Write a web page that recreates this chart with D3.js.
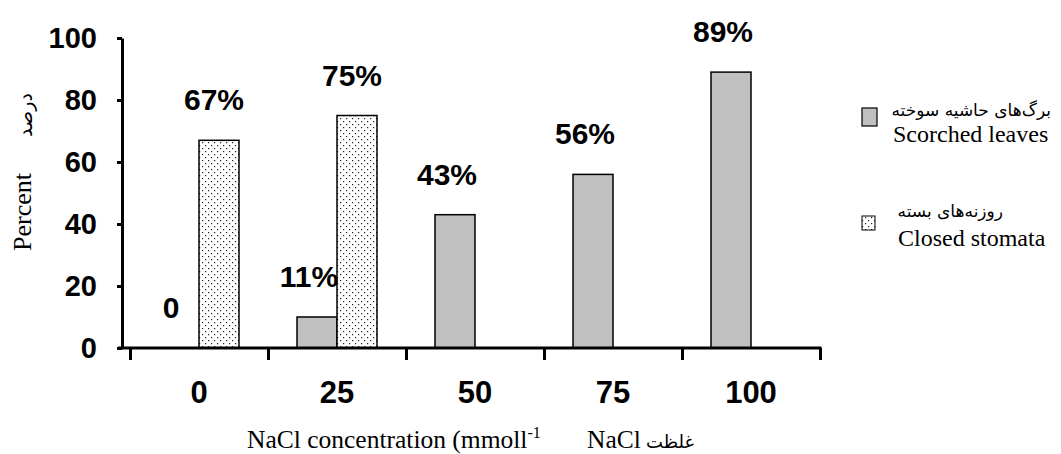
<!DOCTYPE html>
<html>
<head>
<meta charset="utf-8">
<script src="https://cdn.jsdelivr.net/npm/d3@7"></script>
<style>
	body { margin: 0; background: #fff; }
	.tick text { font-family: "Liberation Sans", Arial, sans-serif; font-weight: bold; fill: #000; }
	.serif { font-family: "Liberation Serif", "Times New Roman", serif; fill: #000; }
	.fa { font-family: "DejaVu Sans", sans-serif; fill: #000; }
</style>
</head>
<body>
<svg width="1061" height="454"></svg>
<script>
// The svg
const svg = d3.select("svg"),
	width = +svg.attr("width"),
	height = +svg.attr("height");

// Data
const categories = ["0", "25", "50", "75", "100"]
const scorched = [0, 10, 43, 56, 89]
const scorchedLabels = ["0", "11%", "43%", "56%", "89%"]
const closed = [67, 75, null, null, null]
const closedLabels = ["67%", "75%", null, null, null]
const yTicks = [0, 20, 40, 60, 80, 100]

// pattern for closed stomata
const defs = svg.append("defs")
const pat = defs.append("pattern")
	.attr("id", "dots")
	.attr("patternUnits", "userSpaceOnUse")
	.attr("width", 6)
	.attr("height", 6)
pat.append("rect").attr("width", 6).attr("height", 6).attr("fill", "#fff")
pat.append("rect").attr("x", 1).attr("y", 1).attr("width", 1.2).attr("height", 1.2).attr("fill", "#222")
pat.append("rect").attr("x", 4).attr("y", 4).attr("width", 1.2).attr("height", 1.2).attr("fill", "#222")

// Scales
const x = d3.scaleBand()
	.domain(categories)
	.range([130, 820])
	.padding(0)

const x1 = d3.scaleBand()
	.domain(["scorched", "closed"])
	.range([0, 80])

const y = d3.scaleLinear()
	.domain([0, 100])
	.range([348, 38])

const groupX = function (c) {
	return x(c) + (x.bandwidth() - 80) / 2
}

// Bars
const scorchedBars = svg.append("g")
scorchedBars.selectAll("rect")
	.data(categories)
	.join("rect")
	.filter(function (d, i) { return scorched[i] > 0 })
	.attr("x", d => groupX(d) + x1("scorched"))
	.attr("y", (d) => y(scorched[categories.indexOf(d)]))
	.attr("width", x1.bandwidth())
	.attr("height", (d) => y(0) - y(scorched[categories.indexOf(d)]))
	.attr("fill", "#c0c0c0")
	.attr("stroke", "#000")
	.attr("stroke-width", 1.5)

const closedBars = svg.append("g")
closedBars.selectAll("rect")
	.data(categories.filter((d, i) => closed[i] != null))
	.join("rect")
	.attr("x", d => groupX(d) + x1("closed"))
	.attr("y", (d) => y(closed[categories.indexOf(d)]))
	.attr("width", x1.bandwidth())
	.attr("height", (d) => y(0) - y(closed[categories.indexOf(d)]))
	.attr("fill", "url(#dots)")
	.attr("stroke", "#000")
	.attr("stroke-width", 1.5)

// Value labels
const labelFont = "'Liberation Sans', Arial, sans-serif"
svg.append("g").selectAll("text")
	.data(categories)
	.join("text")
	.attr("x", d => groupX(d) + x1("scorched") + x1.bandwidth() / 2 - 8)
	.attr("y", (d, i) => y(scorched[i]) - 30)
	.attr("text-anchor", "middle")
	.attr("font-family", labelFont)
	.attr("font-weight", "bold")
	.attr("font-size", 30)
	.text((d, i) => scorchedLabels[i])

svg.append("g").selectAll("text")
	.data(categories.filter((d, i) => closed[i] != null))
	.join("text")
	.attr("x", d => groupX(d) + x1("closed") + x1.bandwidth() / 2 - 5)
	.attr("y", (d) => y(closed[categories.indexOf(d)]) - 30)
	.attr("text-anchor", "middle")
	.attr("font-family", labelFont)
	.attr("font-weight", "bold")
	.attr("font-size", 30)
	.text((d) => closedLabels[categories.indexOf(d)])

// Y axis
const yAxis = svg.append("g")
	.attr("transform", "translate(122,0)")
	.call(d3.axisLeft(y).tickValues(yTicks).tickSize(5).tickPadding(20).tickSizeOuter(0))
yAxis.select(".domain").attr("stroke-width", 3)
yAxis.selectAll(".tick line").attr("stroke-width", 3)
yAxis.selectAll(".tick text").attr("font-size", 29)

// X axis: boundary ticks
const xb = d3.scaleLinear().domain([0, categories.length]).range(x.range())
const xAxis = svg.append("g")
	.attr("transform", "translate(0," + y(0) + ")")
	.call(d3.axisBottom(xb).ticks(categories.length).tickSize(12).tickFormat("").tickSizeOuter(0))
xAxis.select(".domain").remove()
xAxis.selectAll(".tick line").attr("stroke-width", 3)
xAxis.append("line")
	.attr("x1", 118)
	.attr("x2", x.range()[1] + 1.5)
	.attr("stroke", "#000")
	.attr("stroke-width", 3)

// X category labels
const xLabels = svg.append("g")
	.attr("transform", "translate(0," + y(0) + ")")
	.call(d3.axisBottom(x).tickSize(0).tickPadding(33))
xLabels.select(".domain").remove()
xLabels.selectAll(".tick text").attr("font-size", 31)

// Axis titles
svg.append("text")
	.attr("class", "serif")
	.attr("transform", "translate(31,212) rotate(-90)")
	.attr("text-anchor", "middle")
	.attr("font-size", 26)
	.text("Percent")

svg.append("text")
	.attr("class", "fa")
	.attr("transform", "translate(32,115) rotate(-90)")
	.attr("text-anchor", "middle")
	.attr("font-size", 19)
	.attr("letter-spacing", 2)
	.text("درصد")

const xTitle = svg.append("text")
	.attr("class", "serif")
	.attr("x", 247)
	.attr("y", 448)
	.attr("font-size", 25.5)
xTitle.append("tspan").text("NaCl concentration (mmoll")
xTitle.append("tspan").attr("dy", -10).attr("font-size", 16).text("-1")

svg.append("text")
	.attr("class", "serif")
	.attr("x", 587)
	.attr("y", 448)
	.attr("font-size", 25.5)
	.text("NaCl")
svg.append("text")
	.attr("class", "fa")
	.attr("x", 646)
	.attr("y", 448)
	.attr("font-size", 18)
	.text("غلظت")

// Legend
const legend = svg.append("g").attr("class", "legend")
legend.append("rect")
	.attr("x", 862).attr("y", 108).attr("width", 15).attr("height", 18)
	.attr("fill", "#c0c0c0").attr("stroke", "#000").attr("stroke-width", 1.2)
legend.append("text").attr("class", "fa")
	.attr("x", 1051).attr("y", 116).attr("text-anchor", "end").attr("font-size", 17)
	.text("برگ‌های حاشیه سوخته")
legend.append("text").attr("class", "serif")
	.attr("x", 893).attr("y", 142).attr("font-size", 24)
	.text("Scorched leaves")

legend.append("rect")
	.attr("x", 862).attr("y", 216).attr("width", 13).attr("height", 14)
	.attr("fill", "url(#dots)").attr("stroke", "#000").attr("stroke-width", 1)
legend.append("text").attr("class", "fa")
	.attr("x", 1003).attr("y", 217).attr("text-anchor", "end").attr("font-size", 17)
	.text("روزنه‌های بسته")
legend.append("text").attr("class", "serif")
	.attr("x", 898).attr("y", 246).attr("font-size", 24)
	.text("Closed stomata")
</script>
</body>
</html>
